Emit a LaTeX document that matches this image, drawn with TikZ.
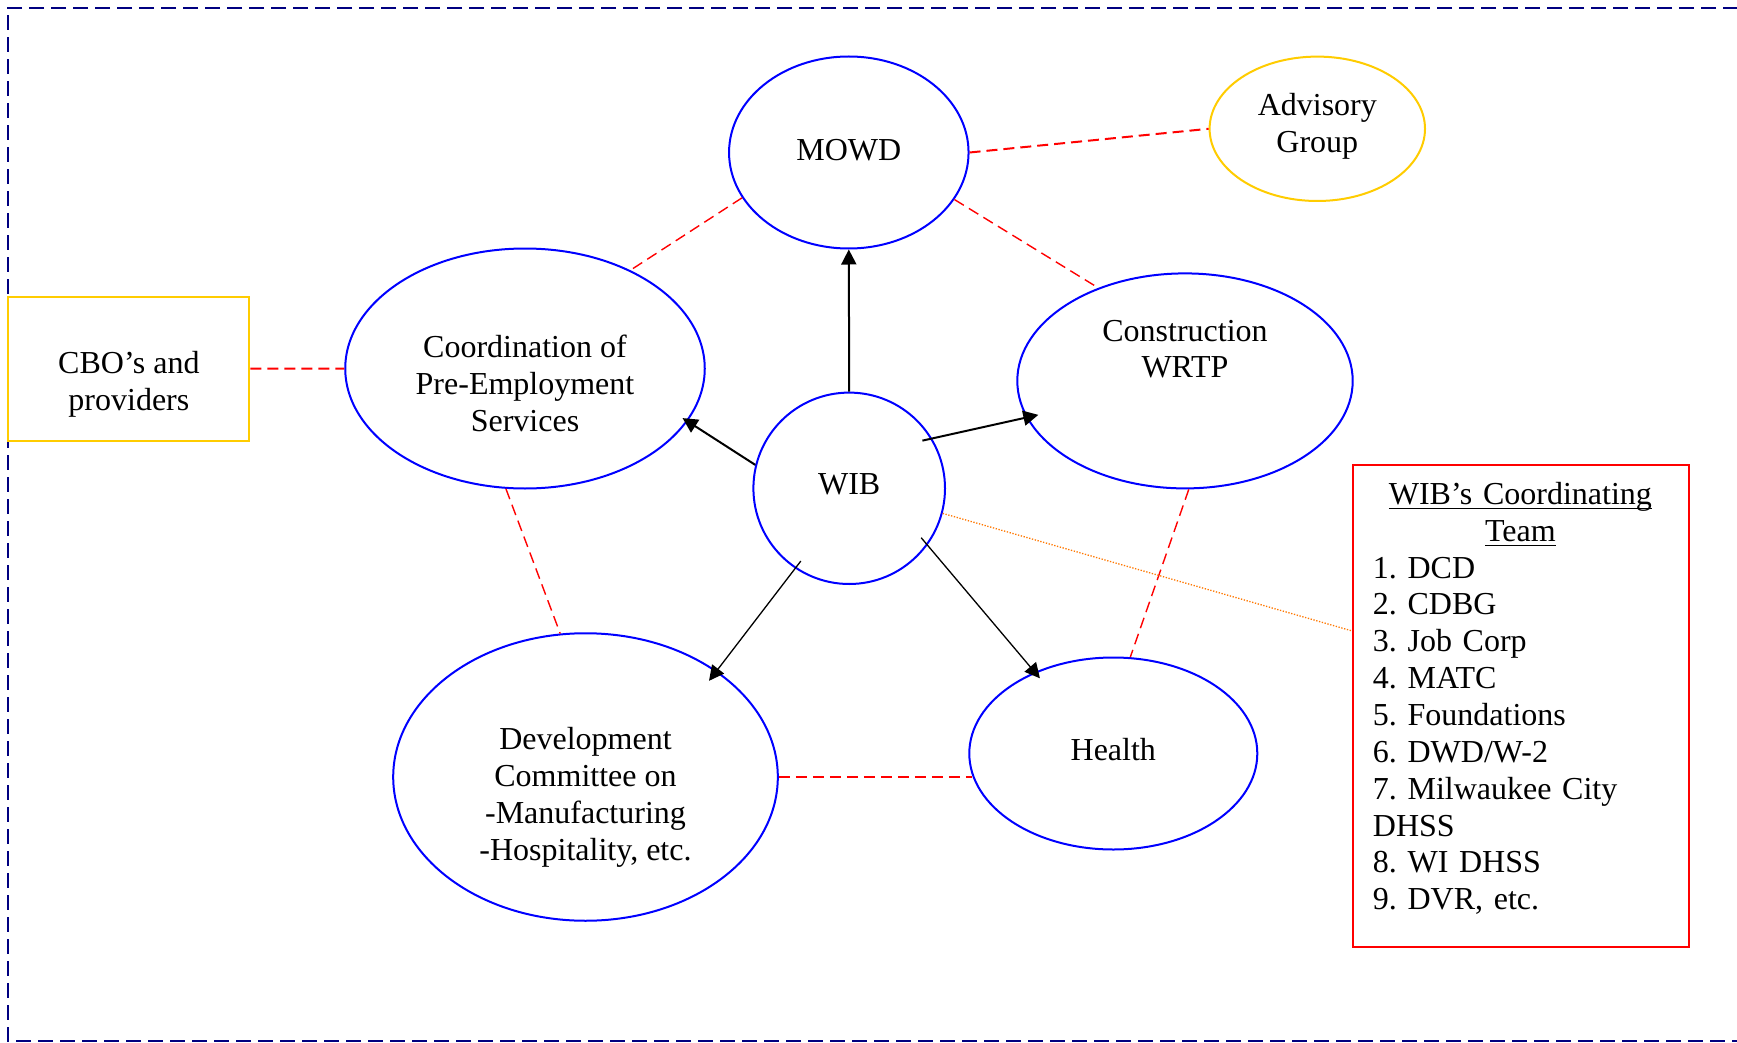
\documentclass[tikz,border=0pt]{standalone}
\usepackage{fontspec}
\setmainfont{Liberation Serif}
\usetikzlibrary{arrows.meta,shapes.geometric}

\definecolor{framenavy}{RGB}{0,0,128}
\definecolor{ovalblue}{RGB}{0,0,255}
\definecolor{goldline}{RGB}{255,204,0}
\definecolor{linkred}{RGB}{255,0,0}
\definecolor{dotorange}{RGB}{255,120,0}

% underline at a fixed depth below the baseline
\newcommand\ulbox[1]{\leavevmode\setbox0\hbox{#1}\rlap{\rule[-5pt]{\wd0}{1.6pt}}\box0}

\begin{document}
\frenchspacing
\begin{tikzpicture}[x=1pt,y=-1pt,
  every node/.style={font=\fontsize{32}{36.85}\selectfont},
  every label/.style={align=center,inner sep=0pt},
  oval/.style={ellipse,draw=ovalblue,line width=2pt,inner sep=0pt},
  goldoval/.style={ellipse,draw=goldline,line width=2pt,inner sep=0pt},
  goldbox/.style={rectangle,draw=goldline,line width=2pt,inner sep=0pt},
  redbox/.style={rectangle,draw=linkred,line width=2pt,inner sep=0pt},
  frame/.style={draw=framenavy,line width=2pt,dash pattern=on 15pt off 7pt},
  link/.style={draw=linkred,line width=1.4pt,dash pattern=on 11pt off 6pt},
  widelink/.style={link,line width=2pt},
  feed/.style={draw=dotorange,line width=1.3pt,dash pattern=on 1.3pt off 1.6pt},
  flow/.style={-{Triangle[length=15pt,width=15pt]},line width=2pt},
  thinflow/.style={flow,line width=1.3pt}]

\useasboundingbox (0,0) rectangle (1737,1043);
\clip (0,0) rectangle (1737,1043);
\fill[white] (0,0) rectangle (1737,1043);

% outer dashed frame, open to the right
\draw[frame] (1760,7.7) -- (7.7,7.7) -- (7.7,1041) -- (1760,1041);

% ovals
\node[oval,minimum width=239.5pt,minimum height=192pt,
  label={[yshift=2.2pt]center:MOWD}] (mowd) at (848.8,152.5) {};
\node[goldoval,minimum width=215.4pt,minimum height=144.4pt,
  label={[yshift=2.8pt]center:Advisory\\Group}] (adv) at (1317.3,128.8) {};
\node[oval,minimum width=359.5pt,minimum height=240pt,
  label={[yshift=-14.7pt]center:Coordination of\\Pre-Employment\\Services}] (coord) at (525,368.5) {};
\node[oval,minimum width=335.4pt,minimum height=215pt,
  label={[yshift=31.8pt]center:Construction\\WRTP}] (cons) at (1185,380.9) {};
\node[oval,minimum width=191.6pt,minimum height=191.4pt,
  label={[yshift=4.4pt]center:WIB}] (wib) at (849.2,488.3) {};
\node[oval,minimum width=384.6pt,minimum height=287.5pt,
  label={[yshift=-20.4pt]center:Development\\Committee on\\-Manufacturing\\-Hospitality, etc.}] (dev) at (585.5,777) {};
\node[oval,minimum width=288pt,minimum height=192pt,
  label={[yshift=3.9pt]center:Health}] (health) at (1113.3,753.5) {};

% boxes
\node[goldbox,minimum width=241pt,minimum height=144pt,
  label={[yshift=-15.9pt]center:CBO’s and\\providers}] (cbo) at (128.9,368.7) {};
\node[redbox,minimum width=336.5pt,minimum height=482.3pt] (team) at (1521,706.2) {};
\node[anchor=north west,inner sep=0pt,text width=294.8pt,align=left] (teamlist)
  at ([shift={(21,17.9)}]team.north west)
  {{\centering\ulbox{WIB’s Coordinating}\\\ulbox{Team}\par}
   1. DCD\\2. CDBG\\3. Job Corp\\4. MATC\\5. Foundations\\6. DWD/W-2\\
   7. Milwaukee City\\DHSS\\8. WI DHSS\\9. DVR, etc.};

% dashed partner links
\draw[widelink] (cbo.east) -- (coord.west);
\draw[widelink] (mowd.east) -- (adv.west);
\draw[link] (mowd.203.5) -- (coord.43.2);
\draw[link] (mowd.336.8) -- (cons.133.8);
\draw[link] (coord.261.5) -- (dev.100.1);
\draw[link] (cons.272.7) -- (health.80.9);
\draw[widelink] (dev.east) -- (dev.east -| health.189.4);

% dotted link to the coordinating team
\draw[feed] (wib.345.5) -- (team.156.7);

% arrows out of WIB
\draw[flow] (wib.north) -- (mowd.south);
\draw[flow,shorten >=-6pt] (wib.166.4) -- (coord.342.3);
\draw[flow,shorten <=-10pt,shorten >=-12.4pt] (wib.31) -- (cons.193.65);
\draw[thinflow,shorten <=-9.3pt,shorten >=-12.7pt] (wib.236.2) -- (dev.39.85);
\draw[thinflow,shorten <=-9.8pt,shorten >=-8.2pt] (wib.324.3) -- (health.134.4);

\end{tikzpicture}
\end{document}
